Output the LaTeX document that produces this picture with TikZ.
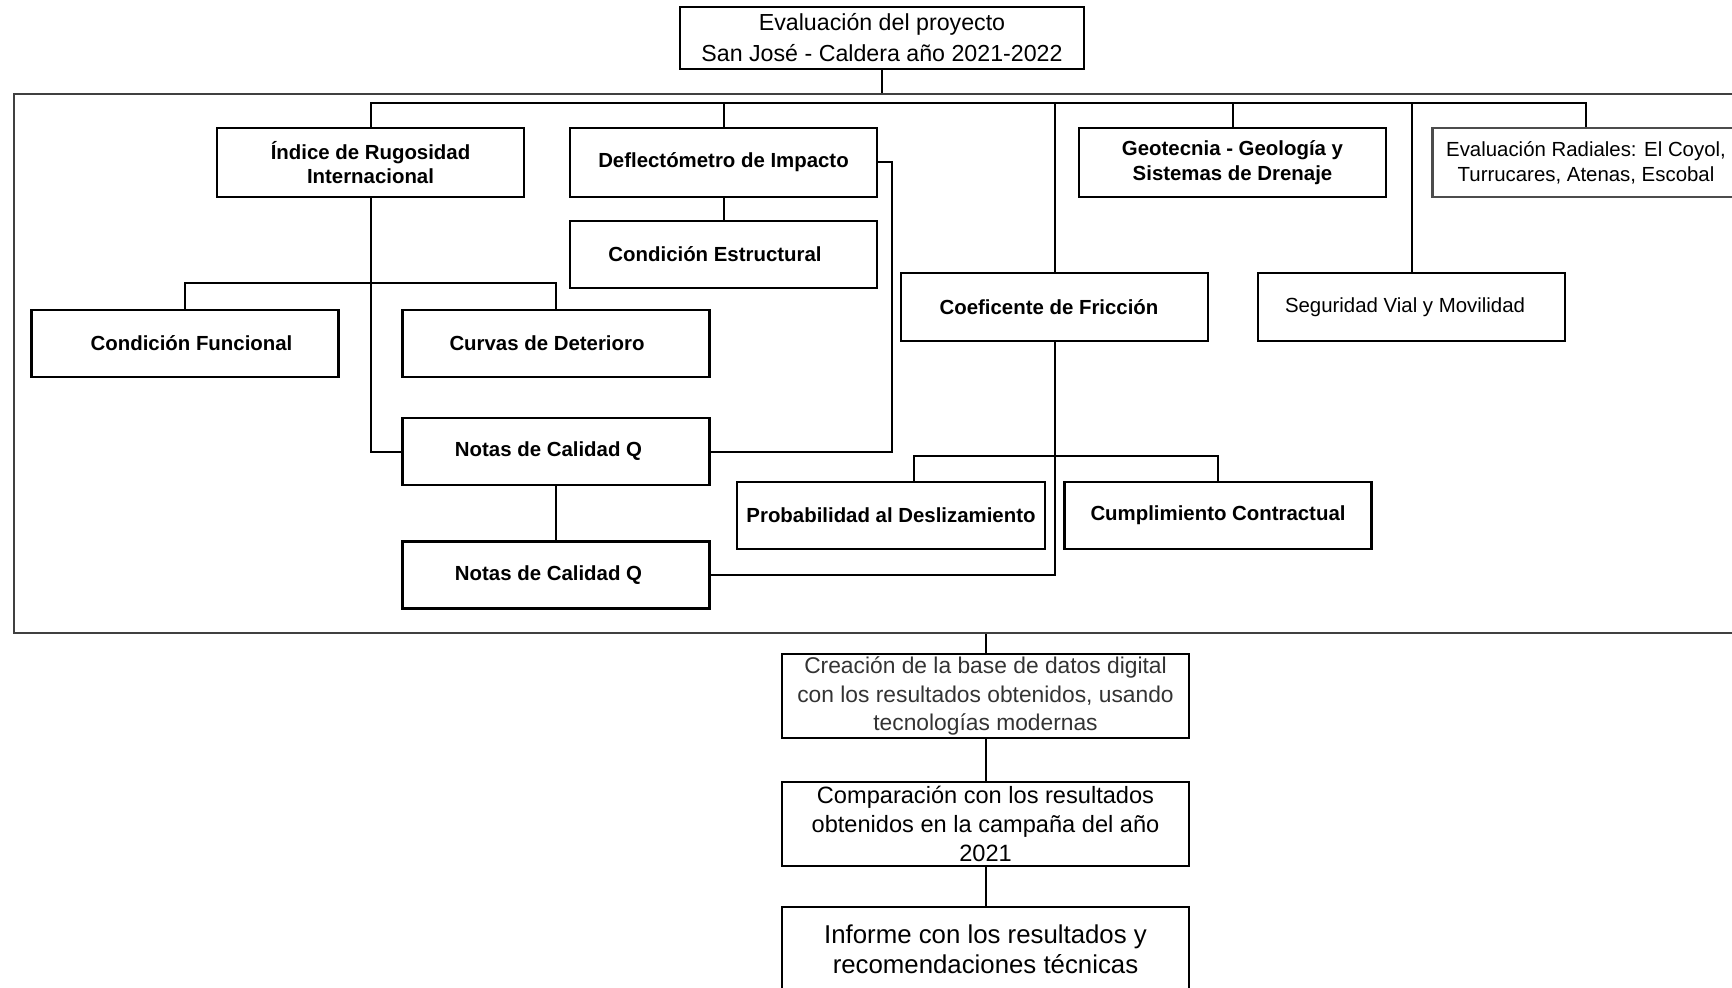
\documentclass[tikz,border=0pt]{standalone}
\usepackage{fontspec}
\setmainfont{Liberation Sans}
\usetikzlibrary{calc}
\tikzset{
  caja/.style={draw, line width=1.2pt, minimum width=153.5pt, minimum height=33.5pt, align=center, inner sep=1pt},
  cajab/.style={caja, font=\fontsize{10.2}{12.3}\selectfont\bfseries},
  cajar/.style={caja, font=\fontsize{10.2}{12.3}\selectfont},
  cajag/.style={caja, minimum width=203.5pt, minimum height=42pt},
  marco/.style={draw=black!75, line width=1.1pt, minimum width=868pt, minimum height=269.5pt, inner sep=0pt},
  linea/.style={line width=1pt},
}

\begin{document}
\begin{tikzpicture}[x=0.5pt, y=-0.5pt]
  \useasboundingbox (0,0) rectangle (1732,988);
  % marco de las evaluaciones
  \node[marco] (frame) at (882,363.5) {};
  \node[caja, minimum width=202pt, minimum height=31pt, font=\fontsize{11.6}{15.5}\selectfont] (top) at (882,38) {Evaluación del proyecto\\San José - Caldera año 2021-2022};

  % primer nivel
  \node[cajab, minimum height=34.5pt] (iri) at (370.5,162.5) {Índice de Rugosidad\\Internacional};
  \node[cajab, minimum height=34.5pt] (defl) at (723.5,162.5) {Deflectómetro de Impacto};
  \node[cajab, minimum height=34.5pt] (geo) at (1232.5,162.5) {Geotecnia - Geología y\\Sistemas de Drenaje};
  \node[cajar, minimum height=34.5pt, draw=black!70] (rad) at (1586,162.5) {Evaluación Radiales: El Coyol,\\Turrucares, Atenas, Escobal};
  \node[cajab] (cest) at (723.5,254.5) {\hspace*{-8.5pt}Condición Estructural};
  \node[cajab, minimum height=34pt] (coef) at (1054.5,307) {\hspace*{-5.5pt}Coeficente de Fricción};
  \node[cajar, minimum height=34pt] (seg) at (1411.5,307) {\hspace*{-6.5pt}Seguridad Vial y Movilidad};

  % segundo nivel
  \node[cajab] (cfun) at (185,343.5) {\hspace*{6.5pt}Condición Funcional};
  \node[cajab] (curv) at (556,343.5) {\hspace*{-9pt}Curvas de Deterioro};
  \node[cajab] (notas1) at (556,451.5) {\hspace*{-7.5pt}Notas de Calidad Q};
  \node[cajab] (notas2) at (556,575) {\hspace*{-7.5pt}Notas de Calidad Q};
  \node[cajab, minimum width=154pt] (prob) at (891,515.5) {Probabilidad al Deslizamiento};
  \node[cajab] (cump) at (1218,515.5) {Cumplimiento Contractual};

  % salida
  \node[cajag, text=black!80, font=\fontsize{11.4}{14.3}\selectfont] (crea) at (985.5,696) {Creación de la base de datos digital\\con los resultados obtenidos, usando\\tecnologías modernas};
  \node[cajag, font=\fontsize{11.8}{14.3}\selectfont] (comp) at (985.5,824) {Comparación con los resultados\\obtenidos en la campaña del año\\2021};
  \node[cajag, font=\fontsize{12.9}{15}\selectfont] (inf) at (985.5,949) {Informe con los resultados y\\recomendaciones técnicas};

  % conectores
  \coordinate (bus) at (882,103);
  \coordinate (sub) at (370.5,283);
  \coordinate (sub2) at (914,456);
  \draw[linea] (top.south) -- (frame.north);
  \draw[linea] (iri.north) |- (bus) -| (rad.north);
  \foreach \n in {defl,coef,geo,seg}
    \draw[linea] (\n.north) -- (\n.north |- bus);
  \draw[linea] (iri.south) |- (notas1.west);
  \draw[linea] (cfun.north) |- (sub) -| (curv.north);
  \draw[linea] (defl.south) -- (cest.north);
  \draw[linea] (defl.east) -- ++(14,0) |- (notas1.east);
  \draw[linea] (notas1.south) -- (notas2.north);
  \draw[linea] (coef.south) |- (notas2.east);
  \draw[linea] (sub2 |- prob.north) -- (sub2) -| (cump.north);
  \draw[linea] (crea.north |- frame.south) -- (crea.north);
  \draw[linea] (crea.south) -- (comp.north);
  \draw[linea] (comp.south) -- (inf.north);
\end{tikzpicture}
\end{document}
